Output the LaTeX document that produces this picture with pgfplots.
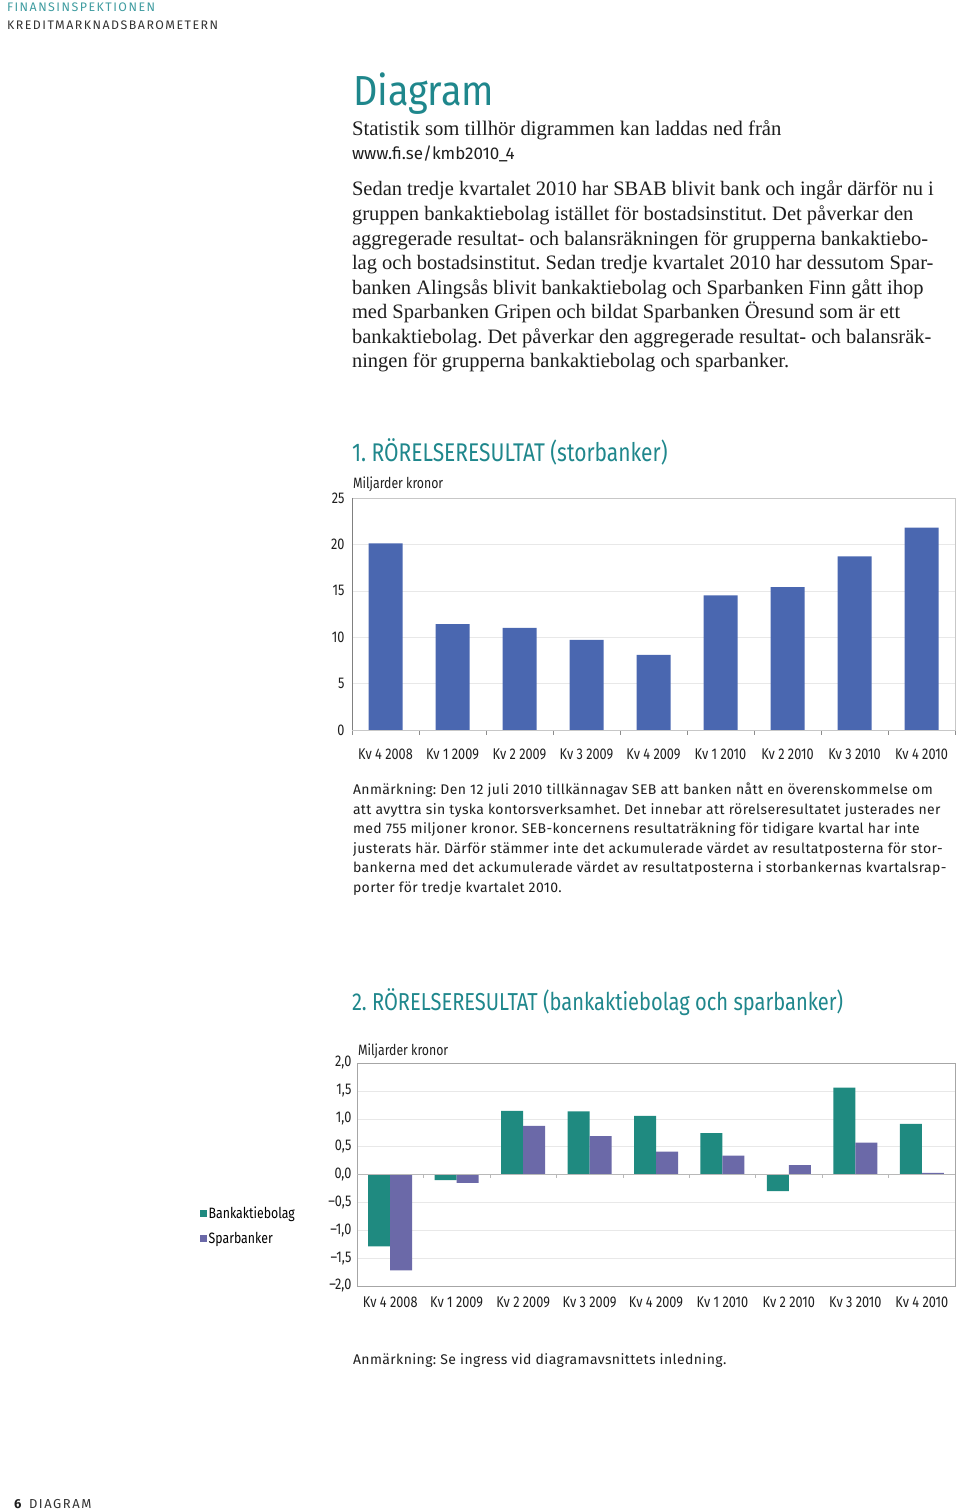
\documentclass[border=0pt]{standalone}
\usepackage{fontspec}
\usepackage{pgfplots}
\pgfplotsset{compat=1.18}
\setmainfont{Liberation Serif}
\newfontfamily\chartfont[FakeStretch=0.82]{Fira Sans}
\newfontfamily\titlefont[FakeStretch=0.9]{Fira Sans}
\newfontfamily\notefont[LetterSpace=2.8]{Fira Sans}
\newfontfamily\urlfont{Fira Sans}
\newfontfamily\headfont[LetterSpace=12]{Fira Sans}
\definecolor{fiteal}{HTML}{1F878C}
\definecolor{headteal}{HTML}{3F9CA0}
\definecolor{barblue}{HTML}{4A67B0}
\definecolor{bankteal}{HTML}{1F8A80}
\definecolor{sparpurple}{HTML}{6B69A8}
\definecolor{gridgray}{HTML}{E8E8E8}
\definecolor{txt}{HTML}{1E1E1E}
\frenchspacing

\begin{document}
\begin{tikzpicture}[t/.style={inner sep=0pt, outer sep=0pt, anchor=base west, text=txt}]

% page head
\node[t, text=headteal] at (7pt,1500.5pt) {\headfont\fontsize{12.4}{14}\selectfont FINANSINSPEKTIONEN};
\node[t, text=black!80] at (7pt,1482.5pt) {\headfont\fontsize{12.4}{14}\selectfont KREDITMARKNADSBAROMETERN};

% intro
\node[t, text=fiteal] at (353pt,1406pt) {\titlefont\fontsize{42}{46}\selectfont Diagram};
\node[t] at (352pt,1376pt) {\fontsize{20.7}{24}\selectfont Statistik som tillhör digrammen kan laddas ned från};
\node[t] at (352pt,1352pt) {\urlfont\fontsize{17}{19}\selectfont www.fi.se/kmb2010\_4};
\node[t] at (352pt,1316pt) {\fontsize{20.5}{24}\selectfont Sedan tredje kvartalet 2010 har SBAB blivit bank och ingår därför nu i};
\node[t] at (352pt,1291pt) {\fontsize{20.5}{24}\selectfont gruppen bankaktiebolag istället för bostadsinstitut. Det påverkar den};
\node[t] at (352pt,1266pt) {\fontsize{20.5}{24}\selectfont aggregerade resultat- och balansräkningen för grupperna bankaktiebo-};
\node[t] at (352pt,1242pt) {\fontsize{20.5}{24}\selectfont lag och bostadsinstitut. Sedan tredje kvartalet 2010 har dessutom Spar-};
\node[t] at (352pt,1217pt) {\fontsize{20.5}{24}\selectfont banken Alingsås blivit bankaktiebolag och Sparbanken Finn gått ihop};
\node[t] at (352pt,1193pt) {\fontsize{20.5}{24}\selectfont med Sparbanken Gripen och bildat Sparbanken Öresund som är ett};
\node[t] at (352pt,1168pt) {\fontsize{20.5}{24}\selectfont bankaktiebolag. Det påverkar den aggregerade resultat- och balansräk-};
\node[t] at (352pt,1144pt) {\fontsize{20.5}{24}\selectfont ningen för grupperna bankaktiebolag och sparbanker.};

% chart 1
\node[t, text=fiteal] at (352pt,1050pt) {\chartfont\fontsize{25.6}{28}\selectfont 1. RÖRELSERESULTAT (storbanker)};
\node[t] at (353pt,1023pt) {\chartfont\fontsize{15}{17}\selectfont Miljarder kronor};

\begin{axis}[
  at={(352pt,782pt)}, anchor=south west,
  scale only axis, width=603pt, height=232pt,
  xmin=-0.5, xmax=8.5, ymin=0, ymax=25,
  ybar, bar width=34pt,
  xtick={0,...,8},
  xticklabels={Kv 4 2008,Kv 1 2009,Kv 2 2009,Kv 3 2009,Kv 4 2009,Kv 1 2010,Kv 2 2010,Kv 3 2010,Kv 4 2010},
  minor xtick={-0.5,0.5,...,8.5},
  ytick={0,5,...,25},
  major tick length=0pt, minor tick length=5pt,
  tick align=outside, tick pos=left,
  ymajorgrids, major grid style={gridgray},
  axis line style={draw=black!22},
  minor tick style={draw=black!45},
  ticklabel style={font=\chartfont\fontsize{15.5}{17}\selectfont, text=txt},
  /pgf/number format/assume math mode=true,
  xticklabel style={anchor=base, yshift=-30pt},
  yticklabel style={xshift=-4pt},
]
\addplot[fill=barblue, draw=none] coordinates {
  (0,20.1) (1,11.4) (2,11.0) (3,9.7) (4,8.1) (5,14.5) (6,15.4) (7,18.7) (8,21.8)
};
\draw[black!50] (rel axis cs:0,1) -- (rel axis cs:0,0) -- (rel axis cs:1,0);
\end{axis}

\node[t] at (353pt,717pt) {\notefont\fontsize{14}{16}\selectfont Anmärkning: Den 12 juli 2010 tillkännagav SEB att banken nått en överenskommelse om};
\node[t] at (353pt,697pt) {\notefont\fontsize{14}{16}\selectfont att avyttra sin tyska kontorsverksamhet. Det innebar att rörelseresultatet justerades ner};
\node[t] at (353pt,678pt) {\notefont\fontsize{14}{16}\selectfont med 755 miljoner kronor. SEB-koncernens resultaträkning för tidigare kvartal har inte};
\node[t] at (353pt,658pt) {\notefont\fontsize{14}{16}\selectfont justerats här. Därför stämmer inte det ackumulerade värdet av resultatposterna för stor-};
\node[t] at (353pt,639pt) {\notefont\fontsize{14}{16}\selectfont bankerna med det ackumulerade värdet av resultatposterna i storbankernas kvartalsrap-};
\node[t] at (353pt,619pt) {\notefont\fontsize{14}{16}\selectfont porter för tredje kvartalet 2010.};

% chart 2
\node[t, text=fiteal] at (352pt,501pt) {\chartfont\fontsize{24.5}{28}\selectfont 2. RÖRELSERESULTAT (bankaktiebolag och sparbanker)};
\node[t] at (358pt,456pt) {\chartfont\fontsize{15}{17}\selectfont Miljarder kronor};

\begin{axis}[
  at={(357pt,226pt)}, anchor=south west,
  scale only axis, width=598pt, height=223pt,
  xmin=-0.5, xmax=8.5, ymin=-2, ymax=2,
  ybar=0pt, bar width=22pt,
  xtick={0,...,8},
  xticklabels={Kv 4 2008,Kv 1 2009,Kv 2 2009,Kv 3 2009,Kv 4 2009,Kv 1 2010,Kv 2 2010,Kv 3 2010,Kv 4 2010},
  ytick={-2,-1.5,-1,-0.5,0,0.5,1,1.5,2},
  yticklabels={{–2,0},{–1,5},{–1,0},{–0,5},{0,0},{0,5},{1,0},{1,5},{2,0}},
  major tick length=0pt, tick pos=left,
  ymajorgrids, major grid style={gridgray},
  axis line style={draw=black!35},
  ticklabel style={font=\chartfont\fontsize{15.5}{17}\selectfont, text=txt},
  xticklabel style={anchor=base, yshift=-22pt},
  yticklabel style={xshift=-2pt},
  legend style={at={(-0.2625,0.269)}, anchor=west, draw=none, fill=none,
    font=\chartfont\fontsize{15}{17}\selectfont, row sep=9pt, inner sep=0pt,
    nodes={inner sep=1.5pt}},
  legend cell align=left,
  sq/.style={legend image code/.code={\fill[##1,draw=none] (0pt,-3.5pt) rectangle (7pt,3.5pt);}},
]
\addplot[fill=bankteal, draw=none, sq] coordinates {
  (0,-1.29) (1,-0.10) (2,1.14) (3,1.13) (4,1.05) (5,0.74) (6,-0.30) (7,1.56) (8,0.91)
};
\addplot[fill=sparpurple, draw=none, sq] coordinates {
  (0,-1.72) (1,-0.15) (2,0.87) (3,0.69) (4,0.41) (5,0.34) (6,0.17) (7,0.57) (8,0.03)
};
\legend{Bankaktiebolag,Sparbanker}
\draw[black!28] (axis cs:-0.5,0) -- (axis cs:8.5,0);
\pgfplotsinvokeforeach{0.5,1.5,2.5,3.5,4.5,5.5,6.5,7.5}{
  \draw[black!28] (axis cs:#1,0) -- ++(0pt,-4pt);
}
\end{axis}

\node[t] at (353pt,147pt) {\notefont\fontsize{14}{16}\selectfont Anmärkning: Se ingress vid diagramavsnittets inledning.};

% page foot
\node[t] at (14pt,3pt) {\urlfont\bfseries\fontsize{13}{15}\selectfont 6};
\node[t, text=black!80] at (29pt,3pt) {\headfont\fontsize{13}{15}\selectfont DIAGRAM};

\pgfresetboundingbox
\path[use as bounding box] (0pt,0pt) rectangle (960pt,1512pt);
\end{tikzpicture}
\end{document}
